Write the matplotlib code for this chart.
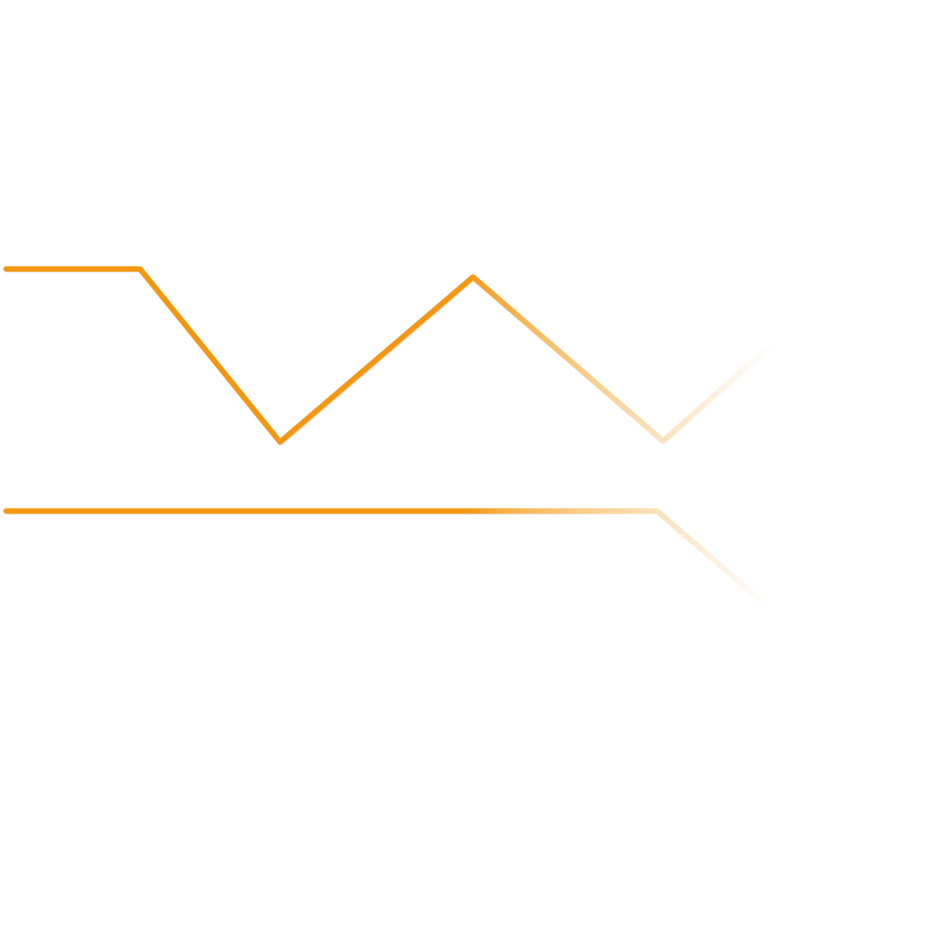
import matplotlib
matplotlib.use("Agg")
import matplotlib.pyplot as plt
import matplotlib.patheffects as pe
import numpy as np

# values (x and y in the chart's own units)
x_points = [0.6, 14.0, 28.0, 47.3, 66.3, 85.0]
upper_series = [68.3, 68.3, 51.0, 67.5, 51.1, 67.7]
lower_x = [0.6, 14.0, 28.0, 47.3, 65.7, 85.0]
lower_series = [44.1, 44.1, 44.1, 44.1, 44.1, 27.5]

line_color = "#f4970e"

fig = plt.figure(figsize=(9.51, 9.52), dpi=100)
ax = fig.add_axes([0, 0, 1, 1])
ax.set_xlim(0, 95.1)
ax.set_ylim(0, 95.2)
ax.axis("off")

shadow = [pe.SimpleLineShadow(offset=(0.6, -0.6), shadow_color="#000000", alpha=0.12),
          pe.Normal()]
for xs, ys in [(x_points, upper_series), (lower_x, lower_series)]:
    ax.plot(xs, ys, color=line_color, linewidth=3.9, solid_capstyle="round",
            solid_joinstyle="round", path_effects=shadow, zorder=2)

# white fade towards the right side
ramp = np.clip((np.linspace(0, 95.1, 951) - 47) / (77 - 47), 0, 1) ** 0.7
overlay = np.ones((1, 951, 4))
overlay[0, :, 3] = ramp
ax.imshow(overlay, extent=(0, 95.1, 0, 95.2), aspect="auto", zorder=3,
          interpolation="bilinear")

fig.savefig("out.png", dpi=100, facecolor="white")
